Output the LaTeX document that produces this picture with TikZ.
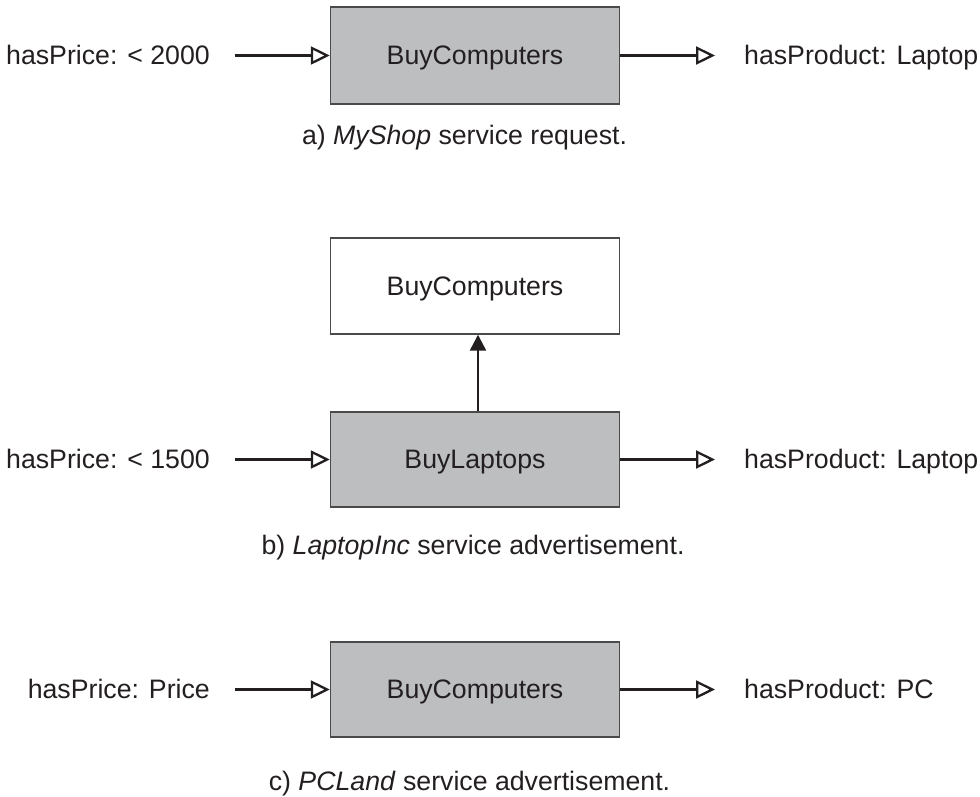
\documentclass[tikz,border=0pt]{standalone}
\usepackage{fontspec}
\setmainfont{Liberation Sans}
\usetikzlibrary{arrows.meta}
\definecolor{ink}{HTML}{231F20}
\definecolor{boxgray}{HTML}{BDBEC0}
\definecolor{edge}{HTML}{4A4A4A}
\begin{document}
\begin{tikzpicture}[x=1pt,y=-1pt,
  every node/.style={font=\fontsize{26.7}{32}\selectfont, text=ink},
  svc/.style={draw=edge, line width=1.4pt, minimum width=289pt, inner sep=0pt, text depth=0pt},
  gsvc/.style={svc, fill=boxgray},
  wsvc/.style={svc, fill=white},
  lbl/.style={inner sep=0pt},
  captxt/.style={inner sep=0pt, anchor=base},
  opent/.style={draw=ink, line width=2.3pt, -{Triangle[open, length=19pt, width=18pt, line width=2.3pt]}},
  fillt/.style={draw=ink, line width=2.3pt, -{Triangle[length=16pt, width=16pt]}}
]
\useasboundingbox (0,0) rectangle (980,796);

% panel a
\node[gsvc, minimum height=97pt] (ba) at (475,55.5) {BuyComputers};
\node[lbl, anchor=base east] (la) at (210,64) {hasPrice: < 2000};
\node[lbl, anchor=base west] (ra) at (744,64) {hasProduct: Laptop};
\draw[opent, shorten <=25pt] (ba.west -| la.east) -- (ba.west);
\draw[opent, shorten >=29pt] (ba.east) -- (ba.east -| ra.west);
\node[captxt] (ca) at (464.5,144) {a) \textit{MyShop} service request.};

% panel b
\node[wsvc, minimum height=96pt] (wb) at (475,286) {BuyComputers};
\node[gsvc, minimum height=95pt] (bb) at (475,459.5) {BuyLaptops};
\node[lbl, anchor=base east] (lb) at (210,468.5) {hasPrice: < 1500};
\node[lbl, anchor=base west] (rb) at (744,468.5) {hasProduct: Laptop};
\draw[opent, shorten <=25pt] (bb.west -| lb.east) -- (bb.west);
\draw[opent, shorten >=29pt] (bb.east) -- (bb.east -| rb.west);
\draw[fillt] ([xshift=3pt]bb.north) -- ([xshift=3pt]wb.south);
\node[captxt] (cb) at (473,554) {b) \textit{LaptopInc} service advertisement.};

% panel c
\node[gsvc, minimum height=95pt] (bc) at (475,689.5) {BuyComputers};
\node[lbl, anchor=base east] (lc) at (210,698.5) {hasPrice: Price};
\node[lbl, anchor=base west] (rc) at (744,698.5) {hasProduct: PC};
\draw[opent, shorten <=25pt] (bc.west -| lc.east) -- (bc.west);
\draw[opent, shorten >=29pt] (bc.east) -- (bc.east -| rc.west);
\node[captxt] (cc) at (469.5,790) {c) \textit{PCLand} service advertisement.};
\end{tikzpicture}
\end{document}
